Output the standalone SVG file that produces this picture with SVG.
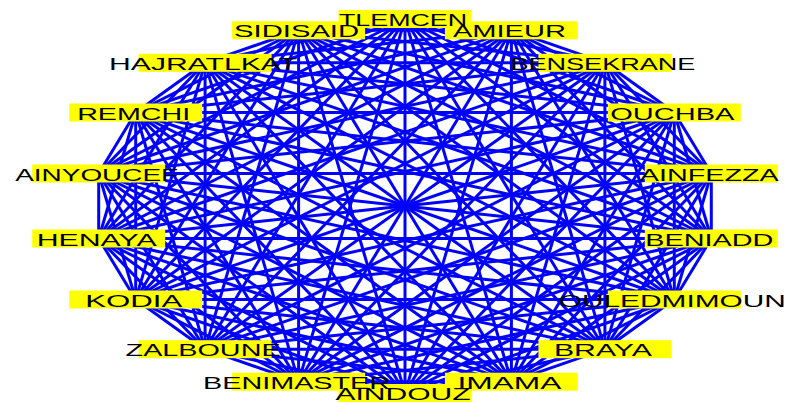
<svg xmlns="http://www.w3.org/2000/svg" width="788" height="403" viewBox="0 0 788 403">
<style>
.e line{stroke:#0000ff;stroke-width:3;fill:none}
.b{fill:#ffff00}
.t{font-family:"Liberation Sans",Arial,sans-serif;font-size:17px;fill:#000;text-anchor:middle}
</style>
<rect width="788" height="403" fill="#ffffff"/>
<g id="edges" class="e">
<line x1="405" y1="19" x2="511.4" y2="30.3"/>
<line x1="405" y1="19" x2="604.9" y2="62.8"/>
<line x1="405" y1="19" x2="674.3" y2="112.5"/>
<line x1="405" y1="19" x2="711.3" y2="173.5"/>
<line x1="405" y1="19" x2="711.3" y2="238.5"/>
<line x1="405" y1="19" x2="674.3" y2="299.5"/>
<line x1="405" y1="19" x2="604.9" y2="349.2"/>
<line x1="405" y1="19" x2="511.4" y2="381.7"/>
<line x1="405" y1="19" x2="405" y2="393"/>
<line x1="405" y1="19" x2="298.6" y2="381.7"/>
<line x1="405" y1="19" x2="205.1" y2="349.2"/>
<line x1="405" y1="19" x2="135.7" y2="299.5"/>
<line x1="405" y1="19" x2="98.7" y2="238.5"/>
<line x1="405" y1="19" x2="98.7" y2="173.5"/>
<line x1="405" y1="19" x2="135.7" y2="112.5"/>
<line x1="405" y1="19" x2="205.1" y2="62.8"/>
<line x1="405" y1="19" x2="298.6" y2="30.3"/>
<line x1="511.4" y1="30.3" x2="604.9" y2="62.8"/>
<line x1="511.4" y1="30.3" x2="674.3" y2="112.5"/>
<line x1="511.4" y1="30.3" x2="711.3" y2="173.5"/>
<line x1="511.4" y1="30.3" x2="711.3" y2="238.5"/>
<line x1="511.4" y1="30.3" x2="674.3" y2="299.5"/>
<line x1="511.4" y1="30.3" x2="604.9" y2="349.2"/>
<line x1="511.4" y1="30.3" x2="511.4" y2="381.7"/>
<line x1="511.4" y1="30.3" x2="405" y2="393"/>
<line x1="511.4" y1="30.3" x2="298.6" y2="381.7"/>
<line x1="511.4" y1="30.3" x2="205.1" y2="349.2"/>
<line x1="511.4" y1="30.3" x2="135.7" y2="299.5"/>
<line x1="511.4" y1="30.3" x2="98.7" y2="238.5"/>
<line x1="511.4" y1="30.3" x2="98.7" y2="173.5"/>
<line x1="511.4" y1="30.3" x2="135.7" y2="112.5"/>
<line x1="511.4" y1="30.3" x2="205.1" y2="62.8"/>
<line x1="511.4" y1="30.3" x2="298.6" y2="30.3"/>
<line x1="604.9" y1="62.8" x2="674.3" y2="112.5"/>
<line x1="604.9" y1="62.8" x2="711.3" y2="173.5"/>
<line x1="604.9" y1="62.8" x2="711.3" y2="238.5"/>
<line x1="604.9" y1="62.8" x2="674.3" y2="299.5"/>
<line x1="604.9" y1="62.8" x2="604.9" y2="349.2"/>
<line x1="604.9" y1="62.8" x2="511.4" y2="381.7"/>
<line x1="604.9" y1="62.8" x2="405" y2="393"/>
<line x1="604.9" y1="62.8" x2="298.6" y2="381.7"/>
<line x1="604.9" y1="62.8" x2="205.1" y2="349.2"/>
<line x1="604.9" y1="62.8" x2="135.7" y2="299.5"/>
<line x1="604.9" y1="62.8" x2="98.7" y2="238.5"/>
<line x1="604.9" y1="62.8" x2="98.7" y2="173.5"/>
<line x1="604.9" y1="62.8" x2="135.7" y2="112.5"/>
<line x1="604.9" y1="62.8" x2="205.1" y2="62.8"/>
<line x1="604.9" y1="62.8" x2="298.6" y2="30.3"/>
<line x1="674.3" y1="112.5" x2="711.3" y2="173.5"/>
<line x1="674.3" y1="112.5" x2="711.3" y2="238.5"/>
<line x1="674.3" y1="112.5" x2="674.3" y2="299.5"/>
<line x1="674.3" y1="112.5" x2="604.9" y2="349.2"/>
<line x1="674.3" y1="112.5" x2="511.4" y2="381.7"/>
<line x1="674.3" y1="112.5" x2="405" y2="393"/>
<line x1="674.3" y1="112.5" x2="298.6" y2="381.7"/>
<line x1="674.3" y1="112.5" x2="205.1" y2="349.2"/>
<line x1="674.3" y1="112.5" x2="135.7" y2="299.5"/>
<line x1="674.3" y1="112.5" x2="98.7" y2="238.5"/>
<line x1="674.3" y1="112.5" x2="98.7" y2="173.5"/>
<line x1="674.3" y1="112.5" x2="135.7" y2="112.5"/>
<line x1="674.3" y1="112.5" x2="205.1" y2="62.8"/>
<line x1="674.3" y1="112.5" x2="298.6" y2="30.3"/>
<line x1="711.3" y1="173.5" x2="711.3" y2="238.5"/>
<line x1="711.3" y1="173.5" x2="674.3" y2="299.5"/>
<line x1="711.3" y1="173.5" x2="604.9" y2="349.2"/>
<line x1="711.3" y1="173.5" x2="511.4" y2="381.7"/>
<line x1="711.3" y1="173.5" x2="405" y2="393"/>
<line x1="711.3" y1="173.5" x2="298.6" y2="381.7"/>
<line x1="711.3" y1="173.5" x2="205.1" y2="349.2"/>
<line x1="711.3" y1="173.5" x2="135.7" y2="299.5"/>
<line x1="711.3" y1="173.5" x2="98.7" y2="238.5"/>
<line x1="711.3" y1="173.5" x2="98.7" y2="173.5"/>
<line x1="711.3" y1="173.5" x2="135.7" y2="112.5"/>
<line x1="711.3" y1="173.5" x2="205.1" y2="62.8"/>
<line x1="711.3" y1="173.5" x2="298.6" y2="30.3"/>
<line x1="711.3" y1="238.5" x2="674.3" y2="299.5"/>
<line x1="711.3" y1="238.5" x2="604.9" y2="349.2"/>
<line x1="711.3" y1="238.5" x2="511.4" y2="381.7"/>
<line x1="711.3" y1="238.5" x2="405" y2="393"/>
<line x1="711.3" y1="238.5" x2="298.6" y2="381.7"/>
<line x1="711.3" y1="238.5" x2="205.1" y2="349.2"/>
<line x1="711.3" y1="238.5" x2="135.7" y2="299.5"/>
<line x1="711.3" y1="238.5" x2="98.7" y2="238.5"/>
<line x1="711.3" y1="238.5" x2="98.7" y2="173.5"/>
<line x1="711.3" y1="238.5" x2="135.7" y2="112.5"/>
<line x1="711.3" y1="238.5" x2="205.1" y2="62.8"/>
<line x1="711.3" y1="238.5" x2="298.6" y2="30.3"/>
<line x1="674.3" y1="299.5" x2="604.9" y2="349.2"/>
<line x1="674.3" y1="299.5" x2="511.4" y2="381.7"/>
<line x1="674.3" y1="299.5" x2="405" y2="393"/>
<line x1="674.3" y1="299.5" x2="298.6" y2="381.7"/>
<line x1="674.3" y1="299.5" x2="205.1" y2="349.2"/>
<line x1="674.3" y1="299.5" x2="135.7" y2="299.5"/>
<line x1="674.3" y1="299.5" x2="98.7" y2="238.5"/>
<line x1="674.3" y1="299.5" x2="98.7" y2="173.5"/>
<line x1="674.3" y1="299.5" x2="135.7" y2="112.5"/>
<line x1="674.3" y1="299.5" x2="205.1" y2="62.8"/>
<line x1="674.3" y1="299.5" x2="298.6" y2="30.3"/>
<line x1="604.9" y1="349.2" x2="511.4" y2="381.7"/>
<line x1="604.9" y1="349.2" x2="405" y2="393"/>
<line x1="604.9" y1="349.2" x2="298.6" y2="381.7"/>
<line x1="604.9" y1="349.2" x2="205.1" y2="349.2"/>
<line x1="604.9" y1="349.2" x2="135.7" y2="299.5"/>
<line x1="604.9" y1="349.2" x2="98.7" y2="238.5"/>
<line x1="604.9" y1="349.2" x2="98.7" y2="173.5"/>
<line x1="604.9" y1="349.2" x2="135.7" y2="112.5"/>
<line x1="604.9" y1="349.2" x2="205.1" y2="62.8"/>
<line x1="604.9" y1="349.2" x2="298.6" y2="30.3"/>
<line x1="511.4" y1="381.7" x2="405" y2="393"/>
<line x1="511.4" y1="381.7" x2="298.6" y2="381.7"/>
<line x1="511.4" y1="381.7" x2="205.1" y2="349.2"/>
<line x1="511.4" y1="381.7" x2="135.7" y2="299.5"/>
<line x1="511.4" y1="381.7" x2="98.7" y2="238.5"/>
<line x1="511.4" y1="381.7" x2="98.7" y2="173.5"/>
<line x1="511.4" y1="381.7" x2="135.7" y2="112.5"/>
<line x1="511.4" y1="381.7" x2="205.1" y2="62.8"/>
<line x1="511.4" y1="381.7" x2="298.6" y2="30.3"/>
<line x1="405" y1="393" x2="298.6" y2="381.7"/>
<line x1="405" y1="393" x2="205.1" y2="349.2"/>
<line x1="405" y1="393" x2="135.7" y2="299.5"/>
<line x1="405" y1="393" x2="98.7" y2="238.5"/>
<line x1="405" y1="393" x2="98.7" y2="173.5"/>
<line x1="405" y1="393" x2="135.7" y2="112.5"/>
<line x1="405" y1="393" x2="205.1" y2="62.8"/>
<line x1="405" y1="393" x2="298.6" y2="30.3"/>
<line x1="298.6" y1="381.7" x2="205.1" y2="349.2"/>
<line x1="298.6" y1="381.7" x2="135.7" y2="299.5"/>
<line x1="298.6" y1="381.7" x2="98.7" y2="238.5"/>
<line x1="298.6" y1="381.7" x2="98.7" y2="173.5"/>
<line x1="298.6" y1="381.7" x2="135.7" y2="112.5"/>
<line x1="298.6" y1="381.7" x2="205.1" y2="62.8"/>
<line x1="298.6" y1="381.7" x2="298.6" y2="30.3"/>
<line x1="205.1" y1="349.2" x2="135.7" y2="299.5"/>
<line x1="205.1" y1="349.2" x2="98.7" y2="238.5"/>
<line x1="205.1" y1="349.2" x2="98.7" y2="173.5"/>
<line x1="205.1" y1="349.2" x2="135.7" y2="112.5"/>
<line x1="205.1" y1="349.2" x2="205.1" y2="62.8"/>
<line x1="205.1" y1="349.2" x2="298.6" y2="30.3"/>
<line x1="135.7" y1="299.5" x2="98.7" y2="238.5"/>
<line x1="135.7" y1="299.5" x2="98.7" y2="173.5"/>
<line x1="135.7" y1="299.5" x2="135.7" y2="112.5"/>
<line x1="135.7" y1="299.5" x2="205.1" y2="62.8"/>
<line x1="135.7" y1="299.5" x2="298.6" y2="30.3"/>
<line x1="98.7" y1="238.5" x2="98.7" y2="173.5"/>
<line x1="98.7" y1="238.5" x2="135.7" y2="112.5"/>
<line x1="98.7" y1="238.5" x2="205.1" y2="62.8"/>
<line x1="98.7" y1="238.5" x2="298.6" y2="30.3"/>
<line x1="98.7" y1="173.5" x2="135.7" y2="112.5"/>
<line x1="98.7" y1="173.5" x2="205.1" y2="62.8"/>
<line x1="98.7" y1="173.5" x2="298.6" y2="30.3"/>
<line x1="135.7" y1="112.5" x2="205.1" y2="62.8"/>
<line x1="135.7" y1="112.5" x2="298.6" y2="30.3"/>
<line x1="205.1" y1="62.8" x2="298.6" y2="30.3"/>
</g>
<g id="nodes">
<g id="n-tlemcen"><rect class="b" x="338.5" y="10" width="133" height="18"/></g>
<g id="n-amieur"><rect class="b" x="444.9" y="21.3" width="133" height="18"/></g>
<g id="n-bensekrane"><rect class="b" x="538.4" y="53.8" width="133" height="18"/></g>
<g id="n-ouchba"><rect class="b" x="607.8" y="103.5" width="133" height="18"/></g>
<g id="n-ainfezza"><rect class="b" x="644.8" y="164.5" width="133" height="18"/></g>
<g id="n-beniadd"><rect class="b" x="644.8" y="229.5" width="133" height="18"/></g>
<g id="n-ouledmimoun"><rect class="b" x="607.8" y="290.5" width="133" height="18"/></g>
<g id="n-braya"><rect class="b" x="538.4" y="340.2" width="133" height="18"/></g>
<g id="n-imama"><rect class="b" x="444.9" y="372.7" width="133" height="18"/></g>
<g id="n-aindouz"><rect class="b" x="338.5" y="384" width="133" height="18"/></g>
<g id="n-benimaster"><rect class="b" x="232.1" y="372.7" width="133" height="18"/></g>
<g id="n-zalboune"><rect class="b" x="138.6" y="340.2" width="133" height="18"/></g>
<g id="n-kodia"><rect class="b" x="69.2" y="290.5" width="133" height="18"/></g>
<g id="n-henaya"><rect class="b" x="32.2" y="229.5" width="133" height="18"/></g>
<g id="n-ainyoucef"><rect class="b" x="32.2" y="164.5" width="133" height="18"/></g>
<g id="n-remchi"><rect class="b" x="69.2" y="103.5" width="133" height="18"/></g>
<g id="n-hajratlkat"><rect class="b" x="138.6" y="53.8" width="133" height="18"/></g>
<g id="n-sidisaid"><rect class="b" x="232.1" y="21.3" width="133" height="18"/></g>
</g>
<g id="labels">
<text id="l-tlemcen" class="t" x="403" y="26" textLength="128" lengthAdjust="spacingAndGlyphs">TLEMCEN</text>
<text id="l-amieur" class="t" x="509.4" y="37.3" textLength="113" lengthAdjust="spacingAndGlyphs">AMIEUR</text>
<text id="l-bensekrane" class="t" x="602.9" y="69.8" textLength="185" lengthAdjust="spacingAndGlyphs">BENSEKRANE</text>
<text id="l-ouchba" class="t" x="672.3" y="119.5" textLength="124" lengthAdjust="spacingAndGlyphs">OUCHBA</text>
<text id="l-ainfezza" class="t" x="709.3" y="180.5" textLength="139" lengthAdjust="spacingAndGlyphs">AINFEZZA</text>
<text id="l-beniadd" class="t" x="709.3" y="245.5" textLength="128" lengthAdjust="spacingAndGlyphs">BENIADD</text>
<text id="l-ouledmimoun" class="t" x="672.3" y="306.5" textLength="227" lengthAdjust="spacingAndGlyphs">OULEDMIMOUN</text>
<text id="l-braya" class="t" x="602.9" y="356.2" textLength="98" lengthAdjust="spacingAndGlyphs">BRAYA</text>
<text id="l-imama" class="t" x="509.4" y="388.7" textLength="104" lengthAdjust="spacingAndGlyphs">IMAMA</text>
<text id="l-aindouz" class="t" x="403" y="400" textLength="135" lengthAdjust="spacingAndGlyphs">AINDOUZ</text>
<text id="l-benimaster" class="t" x="296.6" y="388.7" textLength="187" lengthAdjust="spacingAndGlyphs">BENIMASTER</text>
<text id="l-zalboune" class="t" x="203.1" y="356.2" textLength="155" lengthAdjust="spacingAndGlyphs">ZALBOUNE</text>
<text id="l-kodia" class="t" x="133.7" y="306.5" textLength="97" lengthAdjust="spacingAndGlyphs">KODIA</text>
<text id="l-henaya" class="t" x="96.7" y="245.5" textLength="120" lengthAdjust="spacingAndGlyphs">HENAYA</text>
<text id="l-ainyoucef" class="t" x="96.7" y="180.5" textLength="163" lengthAdjust="spacingAndGlyphs">AINYOUCEF</text>
<text id="l-remchi" class="t" x="133.7" y="119.5" textLength="113" lengthAdjust="spacingAndGlyphs">REMCHI</text>
<text id="l-hajratlkat" class="t" x="203.1" y="69.8" textLength="188" lengthAdjust="spacingAndGlyphs">HAJRATLKAT</text>
<text id="l-sidisaid" class="t" x="296.6" y="37.3" textLength="125" lengthAdjust="spacingAndGlyphs">SIDISAID</text>
</g>
</svg>
